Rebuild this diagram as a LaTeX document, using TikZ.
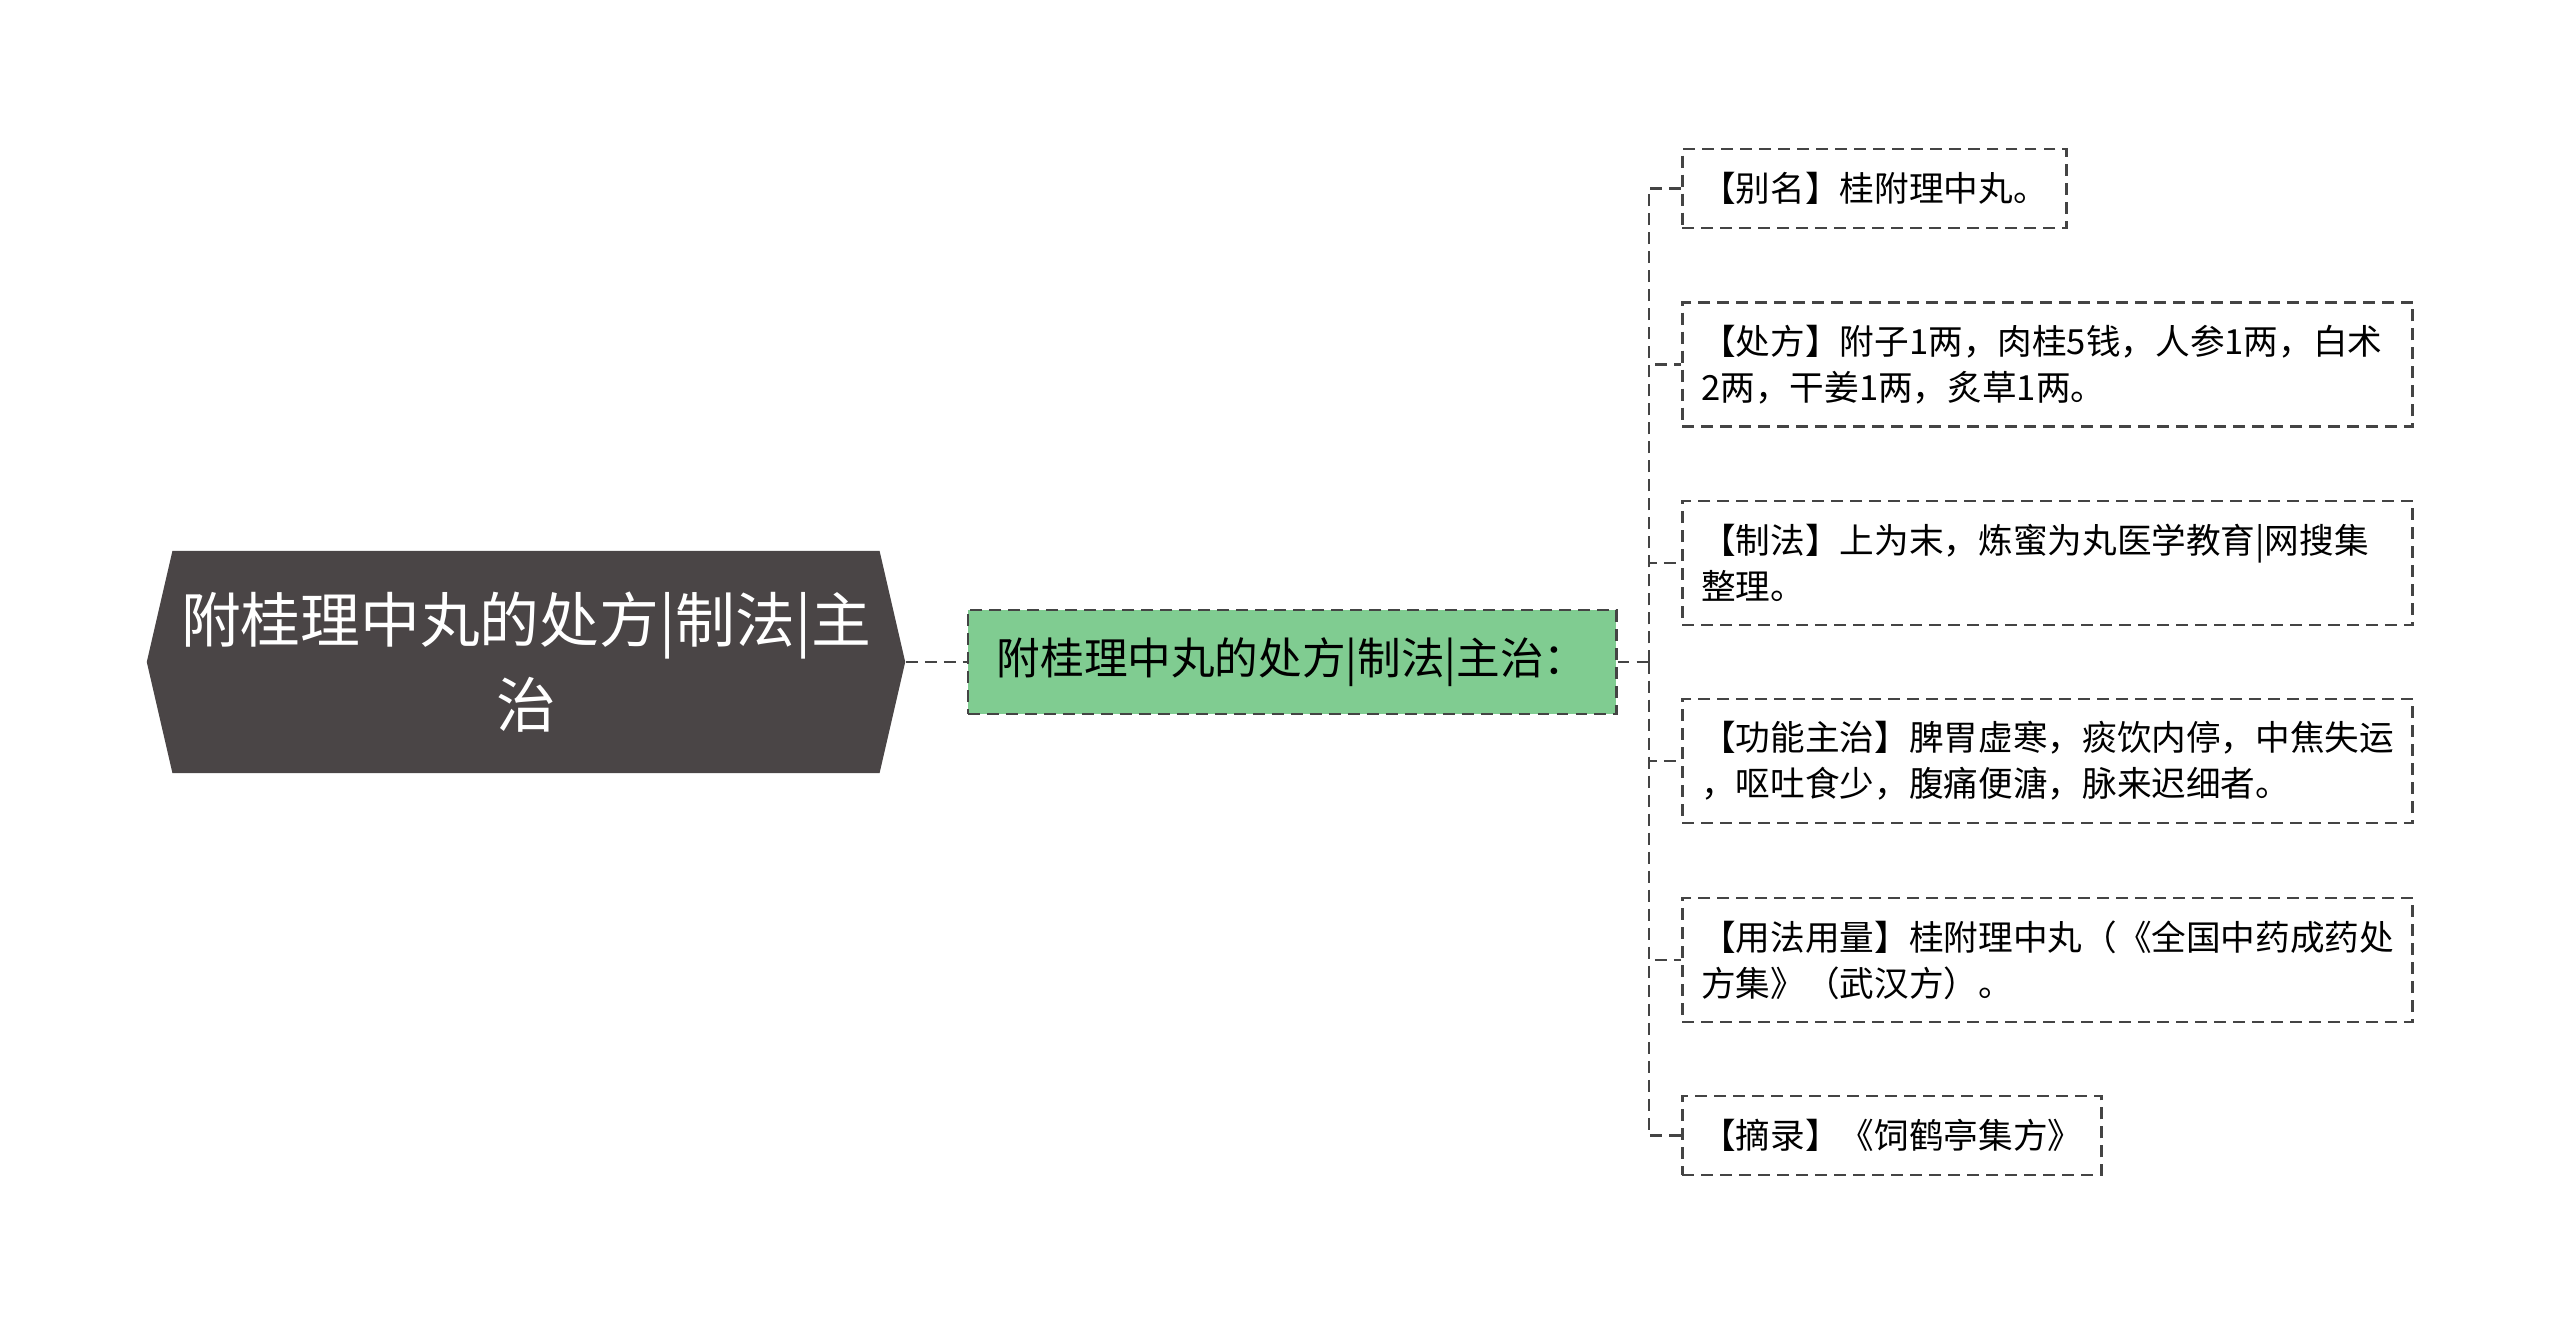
\documentclass[tikz,border=0pt]{standalone}
\usepackage{fontspec}
\setmainfont{Noto Sans CJK SC}
\usetikzlibrary{shapes.symbols}
\definecolor{rootgray}{HTML}{4A4546}
\definecolor{topicgreen}{HTML}{80CC91}
\definecolor{linegray}{HTML}{444444}

\begin{document}
\begin{tikzpicture}[x=0.01cm, y=-0.01cm,
    link/.style={draw=linegray, line width=0.75pt, dash pattern=on 3.4pt off 2pt},
    leaf/.style={draw=linegray, line width=0.75pt, dash pattern=on 3.4pt off 2pt, anchor=west,
      inner xsep=0.19cm, inner ysep=0pt, minimum height=0.79cm, font=\fontsize{9.85}{13.1}\selectfont},
    leaftwo/.style={leaf, text width=6.92cm, align=left, minimum height=1.24cm}]
    \useasboundingbox (0,0) rectangle (2560,1325);

    % main topic and sub topic
    \node[signal, signal to=west and east, signal pointer angle=154, fill=rootgray, text=white,
      inner xsep=0pt, minimum width=7.58cm, minimum height=2.22cm, align=center,
      font=\fontsize{17}{24.2}\selectfont] (root) at (526,662) {附桂理中丸的处方|制法|主\\治};
    \node[draw=linegray, line width=0.75pt, dash pattern=on 3.4pt off 2pt, fill=topicgreen,
      minimum width=6.48cm, minimum height=1.04cm, font=\fontsize{12.4}{14}\selectfont] (topic) at (1292,662) {附桂理中丸的处方|制法|主治：};
    \draw[link] (root.east) -- (topic.west);

    % leaves
    \node[leaf] (alias) at (1681,188.5) {【别名】桂附理中丸。};
    \node[leaftwo] (recipe) at (1681,364.5) {【处方】附子1两，肉桂5钱，人参1两，白术\\2两，干姜1两，炙草1两。};
    \node[leaftwo] (prep) at (1681,563) {【制法】上为末，炼蜜为丸医学教育|网搜集\\整理。};
    \node[leaftwo] (indic) at (1681,761) {【功能主治】脾胃虚寒，痰饮内停，中焦失运\\，呕吐食少，腹痛便溏，脉来迟细者。};
    \node[leaftwo] (dosage) at (1681,960) {【用法用量】桂附理中丸（《全国中药成药处\\方集》（武汉方）。};
    \node[leaf] (source) at (1681,1135.5) {【摘录】《饲鹤亭集方》};

    \coordinate (bus) at (1649,662);
    \draw[link] (topic.east) -- (bus);
    \foreach \leafname in {alias,recipe,prep,indic,dosage,source}
      \draw[link] (bus) |- (\leafname.west);
\end{tikzpicture}
\end{document}
